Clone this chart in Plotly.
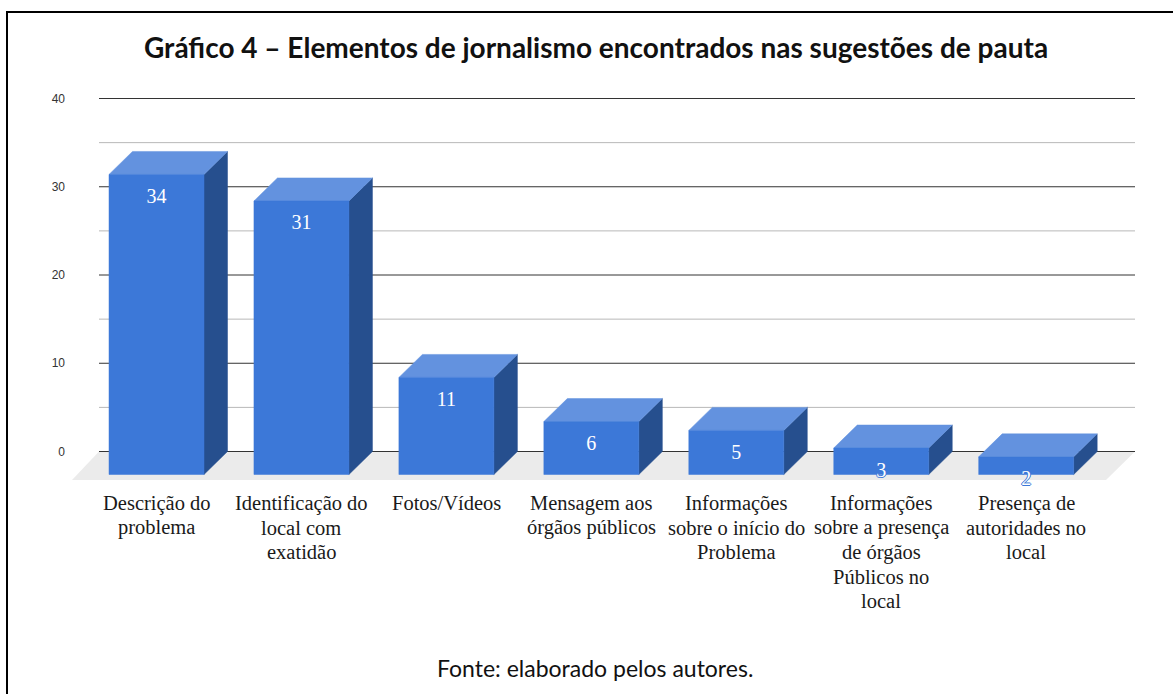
import plotly.graph_objects as go

# ---------------- data ----------------
categories = [
    "Descrição do<br>problema",
    "Identificação do<br>local com<br>exatidão",
    "Fotos/Vídeos",
    "Mensagem aos<br>órgãos públicos",
    "Informações<br>sobre o início do<br>Problema",
    "Informações<br>sobre a presença<br>de órgãos<br>Públicos no<br>local",
    "Presença de<br>autoridades no<br>local",
]
values = [34, 31, 11, 6, 5, 3, 2]
y_ticks = [0, 10, 20, 30, 40]
minor_ticks = [5, 15, 25, 35]
title_text = "Gráfico 4 – Elementos de jornalismo encontrados nas sugestões de pauta"
source_text = "Fonte: elaborado pelos autores."

# ---------------- geometry / style ----------------
W, H = 1173, 694
L, R, T, B = 68, 1140, 90, 490          # plot area in pixels
X0PX, XSTEP = 156.5, 144.95              # pixel of category 0, pixels per category
Y0PX, YSTEP = 451.5, 8.825               # pixel of value 0, pixels per unit

xr = [(L - X0PX) / XSTEP, (R - X0PX) / XSTEP]
yr = [(Y0PX - B) / YSTEP, (Y0PX - T) / YSTEP]

bar_w = 95 / XSTEP
dx = 23.5 / XSTEP
dy = 23.0 / YSTEP

floor_back = [(99 - X0PX) / XSTEP, (1135 - X0PX) / XSTEP]
floor_front = [(72 - X0PX) / XSTEP, (1106 - X0PX) / XSTEP]
floor_depth = -(480 - Y0PX) / YSTEP

c_front = "#3c78d8"
c_top = "#6392df"
c_side = "#264f8e"
serif = "Liberation Serif, Times New Roman, serif"
outline = ("1px 0px 0px #3c78d8, -1px 0px 0px #3c78d8, "
           "0px 1px 0px #3c78d8, 0px -1px 0px #3c78d8")

fx, fy, tx, ty, sx, sy = [], [], [], [], [], []
for i, v in enumerate(values):
    a, b = i - bar_w / 2, i + bar_w / 2
    fx += [a, b, b, a, a, None]
    fy += [-dy, -dy, v - dy, v - dy, -dy, None]
    tx += [a, b, b + dx, a + dx, a, None]
    ty += [v - dy, v - dy, v, v, v - dy, None]
    sx += [b, b + dx, b + dx, b, b, None]
    sy += [-dy, 0, v, v - dy, -dy, None]

fig = go.Figure()
for xs, ys, col in [(sx, sy, c_side), (tx, ty, c_top), (fx, fy, c_front)]:
    fig.add_trace(go.Scatter(x=xs, y=ys, mode="lines", fill="toself",
                             fillcolor=col, line=dict(color=col, width=0.5),
                             hoverinfo="skip", showlegend=False))

fig.add_trace(go.Scatter(
    x=list(range(len(values))),
    y=[v - dy - 23.5 / YSTEP for v in values],
    mode="text",
    text=[str(v) for v in values],
    textposition="middle center",
    textfont=dict(family=serif, size=20, color="white", shadow=outline),
    cliponaxis=False, hoverinfo="skip", showlegend=False,
))

shapes = []
# floor
shapes.append(dict(
    type="path", xref="x", yref="y", layer="below",
    path=(f"M {floor_back[0]},0 L {floor_back[1]},0 "
          f"L {floor_front[1]},{floor_depth} L {floor_front[0]},{floor_depth} Z"),
    fillcolor="#ebebeb", line=dict(width=0),
))
# gridlines
for t in minor_ticks:
    shapes.append(dict(type="line", xref="x", yref="y", layer="below",
                       x0=floor_back[0], x1=floor_back[1], y0=t, y1=t,
                       line=dict(color="#b8b8b8", width=1)))
for t in y_ticks:
    shapes.append(dict(type="line", xref="x", yref="y", layer="below",
                       x0=floor_back[0], x1=floor_back[1], y0=t, y1=t,
                       line=dict(color="#333333", width=1)))


def px2paper_x(p):
    return (p - L) / (R - L)


def px2paper_y(p):
    return (B - p) / (B - T)


# frame (left + top)
shapes.append(dict(type="line", xref="paper", yref="paper",
                   x0=px2paper_x(7), x1=px2paper_x(7), y0=px2paper_y(11), y1=px2paper_y(700),
                   line=dict(color="black", width=2)))
shapes.append(dict(type="line", xref="paper", yref="paper",
                   x0=px2paper_x(6), x1=px2paper_x(1180), y0=px2paper_y(12), y1=px2paper_y(12),
                   line=dict(color="black", width=2)))

annotations = [
    dict(text=f"<b>{title_text}</b>", xref="paper", yref="paper",
         x=px2paper_x(596), y=px2paper_y(47), xanchor="center", yanchor="middle",
         showarrow=False, font=dict(family="Lato, sans-serif", size=28, color="#111111")),
    dict(text=source_text, xref="paper", yref="paper",
         x=px2paper_x(595), y=px2paper_y(668), xanchor="center", yanchor="middle",
         showarrow=False, font=dict(family="Lato, sans-serif", size=23, color="#111111")),
]

# category labels, one annotation per line for tighter line spacing
LABEL_TOP, LABEL_STEP = 503, 24.5
for i, cat in enumerate(categories):
    for k, line in enumerate(cat.split("<br>")):
        annotations.append(dict(
            text=line, xref="x", yref="paper", x=i,
            y=px2paper_y(LABEL_TOP + LABEL_STEP * k),
            xanchor="center", yanchor="middle", showarrow=False,
            font=dict(family=serif, size=20.5, color="#1a1a1a"),
        ))

fig.update_layout(
    width=W, height=H,
    margin=dict(l=L, r=W - R, t=T, b=H - B, pad=0),
    paper_bgcolor="white", plot_bgcolor="white",
    shapes=shapes, annotations=annotations,
    xaxis=dict(range=xr, showticklabels=False, showgrid=False, zeroline=False,
               showline=False, ticks=""),
    yaxis=dict(range=yr, tickmode="array", tickvals=y_ticks,
               ticktext=[str(t) for t in y_ticks], showgrid=False, zeroline=False,
               showline=False, ticks="", ticklabelstandoff=2,
               tickfont=dict(family="Liberation Sans, Arial, sans-serif", size=12, color="#333333")),
)

fig.write_html("out.html")
